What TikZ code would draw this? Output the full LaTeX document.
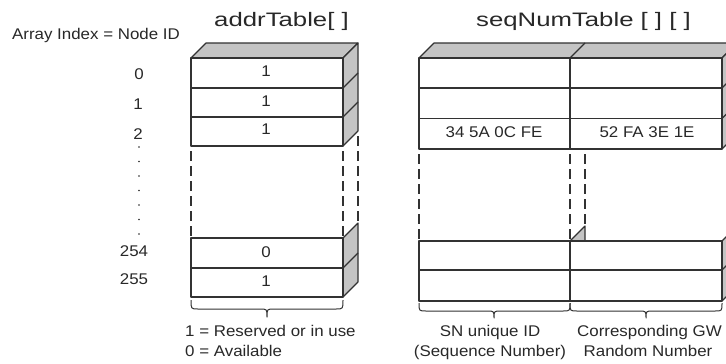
\documentclass[tikz,border=0pt]{standalone}
\usepackage{fontspec}
\setmainfont{Liberation Sans}[FakeStretch=1.09]
\newfontfamily\titlefont{Liberation Sans}[FakeStretch=1.32]
\definecolor{linec}{RGB}{50,50,50}
\definecolor{facec}{RGB}{196,196,196}
\definecolor{textc}{RGB}{40,40,40}
\tikzset{
  edge/.style={draw=linec, line width=1.1pt, line join=round},
  face/.style={edge, fill=facec},
  hidden/.style={draw=linec, line width=1.1pt, dash pattern=on 10pt off 5pt, dash phase=10pt},
  txt/.style={inner sep=0pt, anchor=base, text=textc, font=\fontsize{15.5}{18}\selectfont},
  ttl/.style={inner sep=0pt, anchor=base, text=textc, font=\titlefont\fontsize{19.5}{22}\selectfont},
}
\newcommand\bracepath[6]{%
  \draw[edge, line width=1pt] (#1,#4) .. controls (#1,#5) .. (#1+7,#5) -- (#3-7,#5)
    .. controls (#3,#5) .. (#3,#6) .. controls (#3,#5) .. (#3+7,#5) -- (#2-7,#5)
    .. controls (#2,#5) .. (#2,#4);}
\begin{document}
\begin{tikzpicture}[x=1pt,y=-1pt]
\useasboundingbox (0,0) rectangle (726,364);
\clip (0,0) rectangle (726,364);
\fill[white] (0,0) rectangle (726,364);

% ---------- addrTable ----------
\draw[face] (191,58) -- (206,43) -- (358,43) -- (343,58) -- cycle;
\draw[face] (343,58) -- (358,43) -- (358,131) -- (343,146) -- cycle;
\draw[edge] (343,88) -- (358,73);
\draw[edge] (343,117) -- (358,102);
\draw[edge, fill=white] (191,58) rectangle (343,146);
\draw[edge] (191,88) -- (343,88);
\draw[edge] (191,117) -- (343,117);
\draw[hidden] (191,146) -- (191,238);
\draw[hidden] (343,146) -- (343,238);
\draw[hidden] (358,131) -- (358,223);
\draw[face] (343,238) -- (358,223) -- (358,282) -- (343,297) -- cycle;
\draw[edge] (343,268) -- (358,253);
\draw[edge, fill=white] (191,238) rectangle (343,297);
\draw[edge] (191,268) -- (343,268);

% ---------- seqNumTable ----------
\draw[face] (419,58) -- (434,43) -- (737,43) -- (722,58) -- cycle;
\draw[edge] (570,58) -- (585,43);
\draw[face] (722,58) -- (737,43) -- (737,134) -- (722,149) -- cycle;
\draw[edge] (722,88) -- (737,73);
\draw[edge] (722,118.5) -- (737,103.5);
\draw[edge, fill=white] (419,58) rectangle (722,149);
\draw[edge] (419,88) -- (722,88);
\draw[edge] (419,118.5) -- (722,118.5);
\draw[edge] (570,58) -- (570,149);
\draw[hidden] (419,149) -- (419,241);
\draw[hidden] (570,149) -- (570,241);
\draw[hidden] (585,149) -- (585,226);
\draw[hidden] (737,134) -- (737,226);
\draw[face] (570,241) -- (585,226) -- (585,241) -- cycle;
\draw[face] (722,241) -- (737,226) -- (737,286) -- (722,301) -- cycle;
\draw[edge] (722,270) -- (737,255);
\draw[edge, fill=white] (419,241) rectangle (722,301);
\draw[edge] (419,270) -- (722,270);
\draw[edge] (570,241) -- (570,301);

% ---------- braces ----------
\bracepath{191}{343}{267}{300}{309}{317}
\bracepath{419}{570}{494}{303}{311}{318}
\bracepath{570}{722}{646}{303}{311}{318}

% ---------- texts ----------
\node[txt, anchor=base west] (idx) at (12,39.5) {Array Index = Node ID};
\node[ttl] (t1) at (281.5,26) {addrTable[ ]};
\node[ttl] (t2) at (583.5,26) {seqNumTable [ ] [ ]};

\node[txt] (i0) at (139,79.5) {0};
\node[txt] (i1) at (138,109.5) {1};
\node[txt] (i2) at (138,139.5) {2};
\node[txt] (i254) at (134,256.5) {254};
\node[txt] (i255) at (134,284.5) {255};
\foreach \yy in {147,161.5,176,190.5,205,219.5,234}
  \fill[textc] (139,\yy) circle (0.9);

\node[txt] (c0) at (266,76.5) {1};
\node[txt] (c1) at (266,106.5) {1};
\node[txt] (c2) at (266,134.5) {1};
\node[txt] (c254) at (266,257) {0};
\node[txt] (c255) at (266,286.5) {1};

\node[txt] (h1) at (494,137) {34 5A 0C FE};
\node[txt] (h2) at (647,137) {52 FA 3E 1E};

\node[txt, anchor=base west] (l1) at (185,336) {1 = Reserved or in use};
\node[txt, anchor=base west] (l2) at (185,356) {0 = Available};
\node[txt] (s1) at (490,336) {SN unique ID};
\node[txt] (s2) at (490,356) {(Sequence Number)};
\node[txt] (g1) at (649.5,336) {Corresponding GW};
\node[txt] (g2) at (648,356) {Random Number};
\end{tikzpicture}
\end{document}
